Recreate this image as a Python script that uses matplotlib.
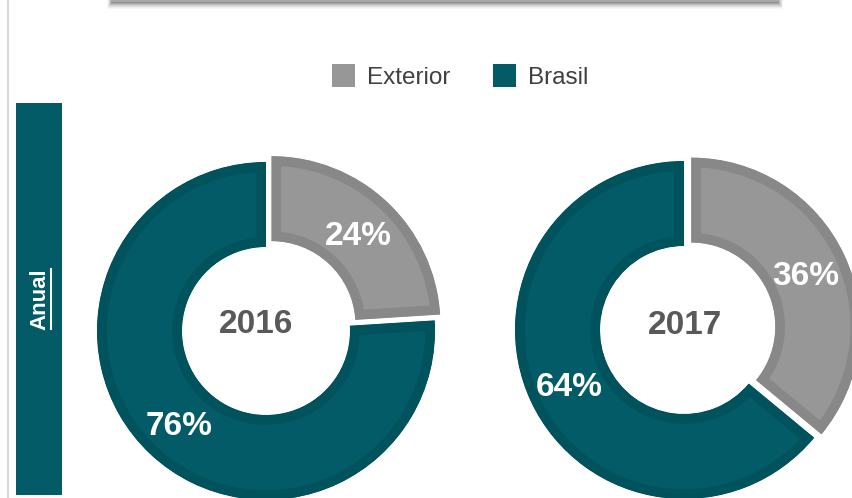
import matplotlib
matplotlib.use('Agg')
import matplotlib.pyplot as plt
from matplotlib.patches import Patch, Rectangle
from matplotlib.lines import Line2D

# ---- data ----
categories = ['Exterior', 'Brasil']
years = ['2016', '2017']
values_2016 = [24, 76]
values_2017 = [36, 64]
side_label = 'Anual'

plt.rcParams['font.family'] = ['Liberation Sans', 'DejaVu Sans']

W, H = 852, 498
fig = plt.figure(figsize=(W / 100, H / 100), dpi=100)
ax = fig.add_axes([0, 0, 1, 1])

fill_colors = ['#979797', '#025b66']
edge_colors = ['#888888', '#00525c']
TEAL = '#025b66'


def donut(values, cx, cy):
    wedges, texts, autotexts = ax.pie(
        values, colors=fill_colors, startangle=90, counterclock=False,
        radius=169, center=(cx, H - cy), explode=[8, 0],
        wedgeprops=dict(width=85), frame=True,
        autopct=lambda p: f'{p:.0f}%', pctdistance=0.75,
        textprops=dict(color='white', fontsize=24, fontweight='bold'))
    for w, ec in zip(wedges, edge_colors):
        w.set_edgecolor(ec)
        w.set_linewidth(14)
        w.set_clip_on(True)
        w.set_clip_path(w)
    for t in autotexts:
        t.set_va('center_baseline')
    return wedges


donut(values_2016, 266, 331)
donut(values_2017, 684, 330)

ax.text(256, H - 321, years[0], ha='center', va='center_baseline', fontsize=24,
        fontweight='bold', color='#595959')
ax.text(685, H - 322.5, years[1], ha='center', va='center_baseline', fontsize=24,
        fontweight='bold', color='#595959')

# left side bar
ax.add_patch(Rectangle((16, H - 495), 46, 392, facecolor=TEAL, edgecolor='none'))
ax.text(40, H - 299, side_label, rotation=90, ha='center', va='center',
        fontsize=16, fontweight='bold', color='white')
ax.add_line(Line2D([50.5, 50.5], [H - 329, H - 269], color='white', lw=1.5))

# left border line
ax.add_line(Line2D([7.5, 7.5], [0, H], color='#d9d9d9', lw=1.5))

# top box with soft shadow
for i, a in enumerate([0.03, 0.04, 0.05, 0.07, 0.09, 0.12, 0.15]):
    off = 7 - i
    ax.add_patch(Rectangle((112 - off * 0.7, H - 2 - off), 666 + off * 1.4, 30,
                           facecolor='black', alpha=a, edgecolor='none'))
ax.add_patch(Rectangle((112, H - 1), 666, 30, facecolor='white',
                       edgecolor='#a8a8a8', lw=1.5))

ax.set_xlim(0, W)
ax.set_ylim(0, H)
ax.axis('off')

handles = [Patch(facecolor=c, edgecolor='none') for c in fill_colors]
fig.legend(handles, categories, loc='center',
           bbox_to_anchor=(460 / W, 1 - 76.5 / H), ncol=2, frameon=False,
           fontsize=17.5, handlelength=0.95, handleheight=1.05,
           handletextpad=0.5, columnspacing=1.75, labelcolor='#404040')

fig.savefig('out.png', dpi=100, facecolor='white')
